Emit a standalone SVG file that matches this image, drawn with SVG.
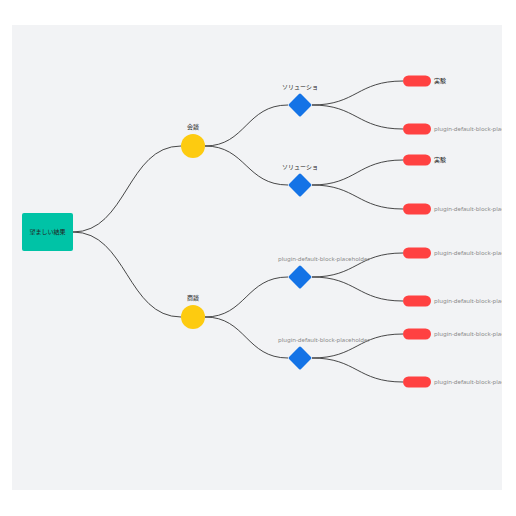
<svg xmlns="http://www.w3.org/2000/svg" width="516" height="516" viewBox="0 0 516 516">
<defs>
<clipPath id="bg"><rect x="12" y="25" width="490" height="465"/></clipPath>
<style>
.t{font-family:"Noto Sans CJK JP","Noto Sans",sans-serif;font-size:6px;fill:#222;}
.g{font-family:"Noto Sans","Liberation Sans",sans-serif;font-size:6px;fill:#8a8a8a;}
.c{fill:none;stroke:#333;stroke-width:0.9;}
.leaf{fill:#ff4141;}
.dia{fill:#1473e6;}
.cir{fill:#fdcb10;}
</style>
</defs>
<rect x="0" y="0" width="516" height="516" fill="#ffffff"/>
<rect x="12" y="25" width="490" height="465" fill="#f2f3f5"/>
<g clip-path="url(#bg)">
<g id="connectors">
<path class="c" d="M73,232 C127,232 127,146 181,146"/>
<path class="c" d="M73,232 C127,232 127,317 181,317"/>
<path class="c" d="M205,146 C246,146 246,105 288,105"/>
<path class="c" d="M205,146 C246,146 246,185 288,185"/>
<path class="c" d="M205,317 C246,317 246,277 288,277"/>
<path class="c" d="M205,317 C246,317 246,358 288,358"/>
<path class="c" d="M312,105 C357,105 357,81 403,81"/>
<path class="c" d="M312,105 C357,105 357,129 403,129"/>
<path class="c" d="M312,185 C357,185 357,160 403,160"/>
<path class="c" d="M312,185 C357,185 357,209 403,209"/>
<path class="c" d="M312,277 C357,277 357,253 403,253"/>
<path class="c" d="M312,277 C357,277 357,301 403,301"/>
<path class="c" d="M312,358 C357,358 357,334 403,334"/>
<path class="c" d="M312,358 C357,358 357,382 403,382"/>
</g>
<g id="root">
<rect x="22" y="213" width="51" height="38" rx="2" fill="#00c3a6"/>
<text class="t" x="47.5" y="234" text-anchor="middle">望ましい結果</text>
</g>
<g id="n1">
<circle class="cir" cx="193" cy="146" r="12"/>
<text class="t" x="193" y="129" text-anchor="middle">会談</text>
</g>
<g id="n2">
<circle class="cir" cx="193" cy="317" r="12"/>
<text class="t" x="193" y="300" text-anchor="middle">商談</text>
</g>
<g id="d1">
<rect class="dia" x="291.5" y="96.5" width="17" height="17" rx="1.5" transform="rotate(45 300 105)"/>
<text class="t" x="300" y="89" text-anchor="middle">ソリューショ</text>
</g>
<g id="d2">
<rect class="dia" x="291.5" y="176.5" width="17" height="17" rx="1.5" transform="rotate(45 300 185)"/>
<text class="t" x="300" y="169" text-anchor="middle">ソリューショ</text>
</g>
<g id="d3">
<rect class="dia" x="291.5" y="268.5" width="17" height="17" rx="1.5" transform="rotate(45 300 277)"/>
<text class="g" x="278" y="261">plugin-default-block-placeholder</text>
</g>
<g id="d4">
<rect class="dia" x="291.5" y="349.5" width="17" height="17" rx="1.5" transform="rotate(45 300 358)"/>
<text class="g" x="278" y="342">plugin-default-block-placeholder</text>
</g>
<g id="l1"><rect class="leaf" x="403" y="75.5" width="28" height="11" rx="5.5"/><text class="t" x="434" y="83">実験</text></g>
<g id="l2"><rect class="leaf" x="403" y="123.5" width="28" height="11" rx="5.5"/><text class="g" x="434" y="131">plugin-default-block-placeholder</text></g>
<g id="l3"><rect class="leaf" x="403" y="154.5" width="28" height="11" rx="5.5"/><text class="t" x="434" y="162">実験</text></g>
<g id="l4"><rect class="leaf" x="403" y="203.5" width="28" height="11" rx="5.5"/><text class="g" x="434" y="211">plugin-default-block-placeholder</text></g>
<g id="l5"><rect class="leaf" x="403" y="247.5" width="28" height="11" rx="5.5"/><text class="g" x="434" y="255">plugin-default-block-placeholder</text></g>
<g id="l6"><rect class="leaf" x="403" y="295.5" width="28" height="11" rx="5.5"/><text class="g" x="434" y="303">plugin-default-block-placeholder</text></g>
<g id="l7"><rect class="leaf" x="403" y="328.5" width="28" height="11" rx="5.5"/><text class="g" x="434" y="336">plugin-default-block-placeholder</text></g>
<g id="l8"><rect class="leaf" x="403" y="376.5" width="28" height="11" rx="5.5"/><text class="g" x="434" y="384">plugin-default-block-placeholder</text></g>
</g>
</svg>
